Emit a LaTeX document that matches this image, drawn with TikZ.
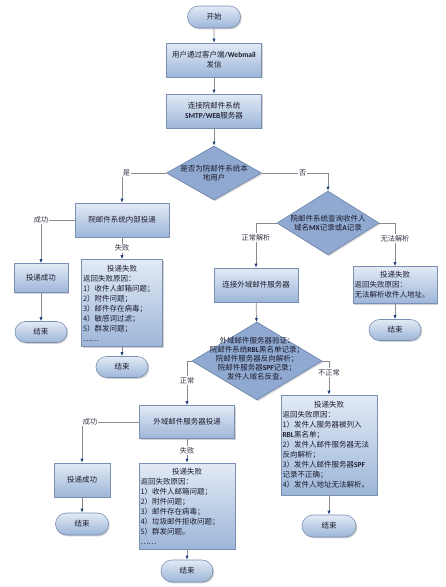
\documentclass[tikz,border=0pt]{standalone}
\usepackage{fontspec}
\setmainfont{Noto Sans CJK SC}
\newfontfamily\carl{Carlito}
\newcommand\LB[1]{{\carl\bfseries #1}}
\usetikzlibrary{shapes.geometric,shapes.misc,arrows.meta,shadows}
\definecolor{boxtop}{HTML}{E2EAF5}
\definecolor{boxbot}{HTML}{9DB6D8}
\definecolor{bordercol}{HTML}{7A8FB2}
\definecolor{diafill}{HTML}{8FA9D0}
\definecolor{diaborder}{HTML}{6A82A8}
\definecolor{linecol}{HTML}{8A8A8A}
\definecolor{tipcol}{HTML}{1F3F7A}
\definecolor{txt}{HTML}{1C1C30}
\begin{document}
\begin{tikzpicture}[x=1pt,y=-1pt,
  base/.style={draw=bordercol, line width=0.6pt, text=txt,
    font=\fontsize{7.5}{10}\selectfont, inner sep=1.5pt,
    top color=boxtop, bottom color=boxbot,
    drop shadow={shadow xshift=1.3pt, shadow yshift=-1.3pt, opacity=0.35}},
  box/.style={base, rectangle, align=center},
  listbox/.style={base, rectangle, align=left},
  term/.style={base, rounded rectangle, align=center},
  dia/.style={diamond, draw=diaborder, line width=0.6pt, fill=diafill, inner sep=0pt,
    drop shadow={shadow xshift=1.3pt, shadow yshift=-1.3pt, opacity=0.3}},
  diatext/.style={text=txt, align=center, font=\fontsize{7.5}{9.5}\selectfont, inner sep=0pt},
  conn/.style={draw=linecol, line width=0.7pt, -{Latex[length=4pt,width=3.2pt,color=tipcol]}},
  lab/.style={fill=white, text=txt!90, inner sep=1pt, font=\fontsize{7.2}{8}\selectfont}
]
\fill[white] (0,0) rectangle (445,587);
\useasboundingbox (0,0) rectangle (445,587);

% nodes
\node[term, minimum width=56pt, minimum height=22pt] (start) at (214,17) {开始};
\node[box, minimum width=95pt, minimum height=34pt] (b1) at (214,60) {用户通过客户端\LB{/Webmail}\\发信};
\node[box, minimum width=95pt, minimum height=34pt] (b2) at (214,111) {连接院邮件系统\\\LB{SMTP/WEB}服务器};
\node[dia, minimum width=95pt, minimum height=54pt] (d1) at (214,173) {};
\node[diatext] (d1t) at (d1) {是否为院邮件系统本\\地用户};

\node[box, minimum width=94pt, minimum height=34pt] (inner) at (122,220) {院邮件系统内部投递};
\node[box, minimum width=54pt, minimum height=29pt] (succ1) at (41,278) {投递成功};
\node[term, minimum width=55pt, minimum height=21pt] (end1) at (41,332) {结束};
\node[listbox, text width=78pt, minimum height=87pt] (fail1) at (122,303)
  {\makebox[\linewidth]{投递失败}\\返回失败原因：\\1）收件人邮箱问题；\\2）附件问题；\\3）邮件存在病毒；\\4）敏感词过滤；\\5）群发问题；\\……};
\node[term, minimum width=55pt, minimum height=21pt] (end2) at (122,367) {结束};

\node[dia, minimum width=102pt, minimum height=64pt] (d2) at (328,223) {};
\node[diatext] (d2t) at (d2) {院邮件系统查询收件人\\域名\LB{MX}记录或\LB{A}记录};
\node[box, minimum width=84pt, minimum height=34pt] (ext) at (256,285) {连接外域邮件服务器};
\node[listbox, text width=81pt, minimum height=37pt] (fail2) at (395,285)
  {\makebox[\linewidth]{投递失败}\\返回失败原因：\\无法解析收件人地址。};
\node[term, minimum width=55pt, minimum height=21pt] (end3) at (395,330) {结束};

\node[dia, minimum width=130pt, minimum height=78pt] (d3) at (257,361) {};
\node[diatext, font=\fontsize{7.5}{9}\selectfont] (d3t) at (257,359) {外域邮件服务器验证：\\院邮件系统\LB{RBL}黑名单记录；\\院邮件服务器反向解析；\\院邮件服务器\LB{SPF}记录；\\发件人域名反查。};

\node[box, minimum width=95pt, minimum height=33pt] (extdel) at (187,422) {外域邮件服务器投递};
\node[box, minimum width=56pt, minimum height=34pt] (succ2) at (82,480) {投递成功};
\node[term, minimum width=56pt, minimum height=22pt] (end4) at (82,524) {结束};
\node[listbox, text width=93pt, minimum height=86pt] (fail3) at (187,506)
  {\makebox[\linewidth]{投递失败}\\返回失败原因：\\1）收件人邮箱问题；\\2）附件问题；\\3）邮件存在病毒；\\4）垃圾邮件拒收问题；\\5）群发问题。\\……};
\node[term, minimum width=55pt, minimum height=22pt] (end5) at (187,571) {结束};

\node[listbox, text width=93pt, minimum height=100pt] (fail4) at (329,445)
  {\makebox[\linewidth]{投递失败}\\返回失败原因：\\1）发件人服务器被列入\\\LB{RBL}黑名单；\\2）发件人邮件服务器无法\\反向解析；\\3）发件人邮件服务器\LB{SPF}\\记录不正确；\\4）发件人地址无法解析。};
\node[term, minimum width=57pt, minimum height=22pt] (end6) at (329,526) {结束};

% connectors
\draw[conn] (start) -- (b1);
\draw[conn] (b1) -- (b2);
\draw[conn] (b2) -- (d1);
\draw[conn] (d1.west) -| node[lab, pos=0.45] {是} (inner.north);
\draw[conn] (d1.east) -| node[lab, pos=0.31] {否} (d2.north);
\draw[conn] (inner.west) -| node[lab, pos=0.5] {成功} (succ1.north);
\draw[conn] (inner) -- node[lab] {失败} (fail1);
\draw[conn] (succ1) -- (end1);
\draw[conn] (fail1) -- (end2);
\draw[conn] (d2.west) -| node[lab, pos=0.66] {正常解析} (ext.north);
\draw[conn] (d2.east) -| node[lab, pos=0.68] {无法解析} (fail2.north);
\draw[conn] (fail2) -- (end3);
\draw[conn] (ext) -- (d3);
\draw[conn] (d3.west) -| node[lab, pos=0.72] {正常} (extdel.north);
\draw[conn] (d3.east) -| node[lab, pos=0.67] {不正常} (fail4.north);
\draw[conn] (extdel.west) -| node[lab, pos=0.43] {成功} (succ2.north);
\draw[conn] (extdel) -- node[lab] {失败} (fail3);
\draw[conn] (succ2) -- (end4);
\draw[conn] (fail3) -- (end5);
\draw[conn] (fail4) -- (end6);
\end{tikzpicture}
\end{document}
